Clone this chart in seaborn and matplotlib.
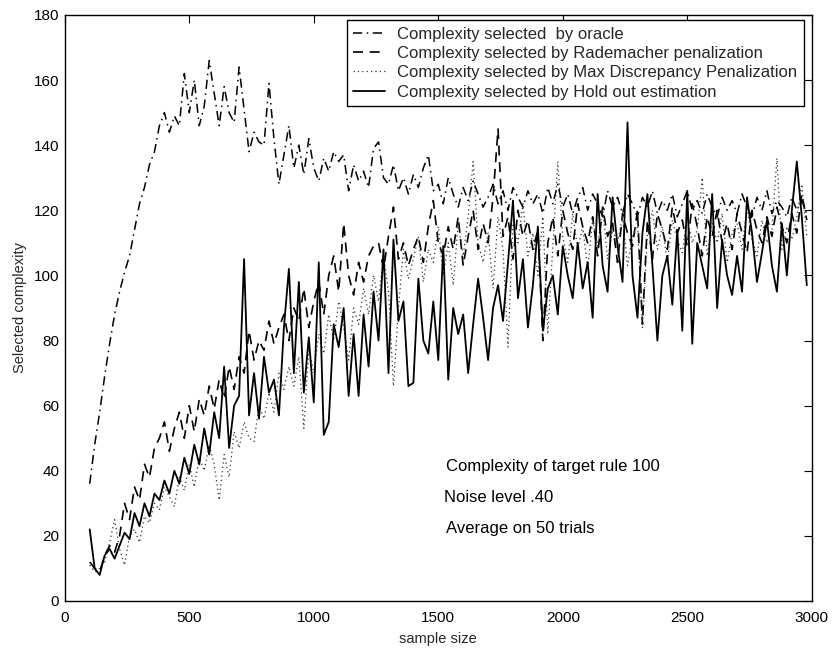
import numpy as np
import pandas as pd
import matplotlib
matplotlib.use("Agg")
import matplotlib.pyplot as plt
import seaborn as sns

sample_size = list(range(100, 3000, 20))

oracle = [
    36, 48, 58, 69, 79, 88, 95, 101, 106, 114,
    122, 127, 134, 138, 146, 150, 144, 149, 146, 162,
    150, 160, 146, 152, 166, 156, 146, 158, 150, 147,
    164, 151, 138, 144, 141, 140, 159, 142, 128, 137,
    146, 133, 140, 131, 142, 133, 129, 136, 132, 138,
    135, 137, 126, 134, 129, 132, 127, 139, 141, 130,
    128, 134, 126, 130, 125, 131, 127, 133, 137, 126,
    128, 122, 130, 125, 121, 127, 123, 129, 125, 121,
    124, 128, 122, 126, 120, 127, 124, 121, 126, 122,
    125, 119, 127, 122, 128, 121, 125, 119, 124, 127,
    120, 125, 122, 118, 126, 121, 124, 119, 125, 122,
    118, 124, 121, 126, 119, 123, 120, 125, 118, 122,
    126, 120, 123, 119, 125, 121, 118, 124, 120, 123,
    119, 125, 121, 118, 124, 120, 126, 119, 123, 121,
    118, 124, 120, 123, 119,
]

rademacher = [
    12, 10, 9, 14, 17, 15, 20, 30, 25, 35,
    31, 42, 38, 47, 50, 55, 46, 53, 58, 50,
    60, 52, 62, 57, 66, 59, 68, 62, 72, 65,
    75, 70, 83, 74, 80, 77, 86, 79, 84, 88,
    80, 90, 86, 96, 84, 92, 98, 88, 100, 106,
    95, 116, 100, 94, 104, 98, 106, 109, 110, 102,
    112, 121, 105, 110, 103, 108, 112, 104, 115, 123,
    110, 106, 115, 108, 118, 103, 112, 120, 108, 116,
    110, 124, 145, 112, 118, 105, 120, 112, 117, 108,
    114, 80, 110, 118, 106, 120, 113, 108, 122, 115,
    110, 118, 106, 121, 112, 116, 104, 119, 113, 109,
    120, 85, 117, 105, 119, 114, 108, 121, 113, 117,
    109, 122, 115, 106, 118, 112, 120, 110, 116, 108,
    119, 113, 107, 120, 114, 110, 118, 112, 121, 115,
    110, 119, 113, 125, 117,
]

max_discrepancy = [
    11, 9, 10, 12, 18, 25, 16, 11, 20, 22,
    18, 26, 24, 30, 28, 35, 32, 29, 38, 34,
    42, 35, 44, 40, 48, 42, 31, 45, 38, 52,
    47, 55, 50, 49, 60, 56, 64, 58, 70, 65,
    72, 66, 75, 53, 78, 70, 82, 76, 88, 80,
    92, 84, 74, 90, 85, 96, 88, 100, 92, 106,
    95, 66, 90, 108, 99, 105, 112, 98, 108, 104,
    115, 100, 110, 97, 116, 106, 118, 135, 110, 104,
    113, 96, 118, 108, 78, 116, 110, 122, 106, 113,
    100, 118, 82, 109, 135, 112, 104, 119, 108, 115,
    102, 117, 109, 121, 105, 114, 110, 118, 103, 112,
    116, 84, 113, 120, 108, 115, 104, 117, 111, 107,
    118, 110, 114, 130, 106, 116, 110, 119, 104, 113,
    116, 108, 121, 111, 106, 117, 110, 114, 136, 108,
    115, 111, 118, 128, 112,
]

hold_out = [
    22, 10, 8, 14, 16, 13, 17, 21, 19, 27,
    23, 30, 26, 33, 31, 37, 33, 40, 36, 44,
    39, 48, 42, 53, 45, 58, 50, 72, 47, 60,
    63, 105, 57, 70, 56, 75, 64, 68, 57, 84,
    102, 70, 98, 64, 81, 61, 104, 51, 55, 85,
    78, 90, 63, 82, 63, 88, 72, 95, 80, 108,
    70, 111, 86, 92, 66, 67, 99, 80, 76, 92,
    74, 109, 68, 90, 82, 88, 70, 85, 99, 87,
    74, 90, 97, 86, 104, 123, 93, 105, 84, 97,
    115, 83, 96, 100, 88, 109, 100, 93, 110, 96,
    104, 87, 125, 103, 95, 124, 109, 98, 147, 100,
    87, 113, 125, 103, 80, 100, 106, 91, 114, 83,
    126, 79, 110, 103, 96, 125, 90, 111, 100, 94,
    106, 95, 124, 113, 98, 107, 117, 103, 95, 116,
    100, 120, 135, 118, 97,
]

labels = [
    "Complexity selected  by oracle",
    "Complexity selected by Rademacher penalization",
    "Complexity selected by Max Discrepancy Penalization",
    "Complexity selected by Hold out estimation",
]
notes = ["Complexity of target rule 100", "Noise level .40", "Average on 50 trials"]

sns.set_theme(style="white")
plt.rcParams["font.family"] = ["Liberation Sans", "DejaVu Sans"]

fig = plt.figure(figsize=(8.33, 6.49), dpi=100)
ax = fig.add_axes([0.0778, 0.0740, 0.8967, 0.9029])

df = pd.DataFrame({"x": sample_size, "oracle": oracle, "rad": rademacher,
                   "md": max_discrepancy, "ho": hold_out})

sns.lineplot(data=df, x="x", y="oracle", ax=ax, color="black", lw=1.1,
             linestyle=(0, (6, 3, 1, 3)), label=labels[0])
sns.lineplot(data=df, x="x", y="rad", ax=ax, color="black", lw=1.2,
             linestyle=(0, (6, 4)), label=labels[1])
sns.lineplot(data=df, x="x", y="md", ax=ax, color="#333333", lw=0.9,
             linestyle=(0, (1, 2.5)), label=labels[2])
sns.lineplot(data=df, x="x", y="ho", ax=ax, color="black", lw=1.3,
             linestyle="-", label=labels[3])

ax.set_xlim(0, 3000)
ax.set_ylim(0, 180)
ax.set_xticks(range(0, 3001, 500))
ax.set_yticks(range(0, 181, 20))
ax.tick_params(direction="in", length=6, width=0.8, top=True, right=True,
               labelsize=11, colors="black")
ax.tick_params(axis="x", pad=7)
ax.tick_params(axis="y", pad=4)
for s in ax.spines.values():
    s.set_color("black")
    s.set_linewidth(1.0)
ax.set_xlabel("sample size", fontsize=10.5, labelpad=5)
ax.set_ylabel("Selected complexity", fontsize=10.5, labelpad=5)

for txt, xv, yv in zip(notes, [1530, 1522, 1530], [41.2, 31.7, 22.4]):
    ax.text(xv, yv, txt, fontsize=12, ha="left", va="center", color="black")

leg = ax.legend(loc="upper right", bbox_to_anchor=(0.99, 0.9915), fontsize=12,
                frameon=True, fancybox=False, edgecolor="black", framealpha=1,
                handlelength=1.9, handletextpad=0.75, labelspacing=0.26,
                borderpad=0.4, borderaxespad=0.0)
leg.get_frame().set_linewidth(1.0)

fig.savefig("out.png", dpi=100)
